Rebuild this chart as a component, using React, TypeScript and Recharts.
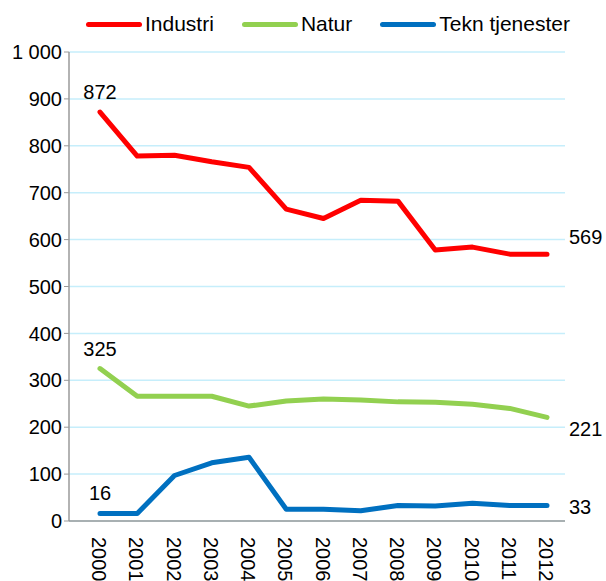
import React from 'react';
import { LineChart, Line, XAxis, YAxis, CartesianGrid, LabelList } from 'recharts';

const years = ['2000','2001','2002','2003','2004','2005','2006','2007','2008','2009','2010','2011','2012'];
const industri = [872, 778, 780, 766, 754, 665, 645, 684, 682, 578, 584, 569, 569];
const natur = [325, 266, 266, 266, 245, 256, 260, 258, 254, 253, 249, 240, 221];
const tekn = [16, 16, 97, 124, 136, 25, 25, 22, 33, 32, 38, 33, 33];
const yTicks = [0, 100, 200, 300, 400, 500, 600, 700, 800, 900, 1000];

const data = years.map((y, i) => ({ year: y, industri: industri[i], natur: natur[i], tekn: tekn[i] }));

const FONT = '"Liberation Sans", Arial, sans-serif';
const RED = '#ff0000';
const GREEN = '#92d050';
const BLUE = '#0070c0';

const fmt = (v: number) => (v >= 1000 ? `${Math.floor(v / 1000)} ${String(v % 1000).padStart(3, '0')}` : String(v));

const makeLabel = (lastDy: number) => (props: any) => {
  const { x, y, value, index } = props;
  if (index === 0) {
    return (
      <text x={x} y={y - 20} textAnchor="middle" dominantBaseline="central" fontSize={20} fontFamily={FONT} fill="#000">
        {value}
      </text>
    );
  }
  if (index === years.length - 1) {
    return (
      <text x={x + 22} y={y + lastDy} textAnchor="start" dominantBaseline="central" fontSize={20} fontFamily={FONT} fill="#000">
        {value}
      </text>
    );
  }
  return null;
};

const XTick = (props: any) => {
  const { x, y, payload } = props;
  return (
    <text transform={`translate(${x - 1},${y + 8}) rotate(90)`} textAnchor="start" dominantBaseline="central" fontSize={20} fontFamily={FONT} fill="#000">
      {payload.value}
    </text>
  );
};

const legendItems = [
  { name: 'Industri', color: RED },
  { name: 'Natur', color: GREEN },
  { name: 'Tekn tjenester', color: BLUE },
];

export default function App() {
  return (
    <div style={{ position: 'absolute', left: 0, top: 0, width: 606, height: 581, background: '#fff' }}>
      <div style={{ position: 'absolute', left: 86, top: 11, height: 26, display: 'flex', alignItems: 'center', fontFamily: FONT, fontSize: 21, color: '#000' }}>
        {legendItems.map((it, i) => (
          <div key={it.name} style={{ display: 'flex', alignItems: 'center', marginRight: i < 2 ? 28 : 0 }}>
            <div style={{ width: 56, height: 5, borderRadius: 3, background: it.color, marginRight: 3 }} />
            <span>{it.name}</span>
          </div>
        ))}
      </div>
      <LineChart width={606} height={581} data={data} margin={{ top: 52, right: 41, bottom: 5, left: 0 }}>
        <CartesianGrid horizontal vertical={false} stroke="#c6eefb" strokeWidth={1.5} />
        <XAxis
          dataKey="year"
          padding={{ left: 31, right: 18 }}
          height={55}
          tickLine={false}
          axisLine={{ stroke: '#9a9a9a', strokeWidth: 1.5 }}
          tick={<XTick />}
          interval={0}
        />
        <YAxis
          domain={[0, 1000]}
          ticks={yTicks}
          width={69}
          tickSize={5}
          tickMargin={2}
          tickLine={{ stroke: '#9a9a9a' }}
          axisLine={{ stroke: '#9a9a9a', strokeWidth: 1.5 }}
          tickFormatter={fmt}
          tick={{ fontSize: 20, fontFamily: FONT, fill: '#000' }}
          interval={0}
        />
        <Line dataKey="industri" stroke={RED} strokeWidth={5} dot={false} isAnimationActive={false} strokeLinejoin="round" strokeLinecap="round">
          <LabelList dataKey="industri" content={makeLabel(-17)} />
        </Line>
        <Line dataKey="natur" stroke={GREEN} strokeWidth={5} dot={false} isAnimationActive={false} strokeLinejoin="round" strokeLinecap="round">
          <LabelList dataKey="natur" content={makeLabel(12)} />
        </Line>
        <Line dataKey="tekn" stroke={BLUE} strokeWidth={5} dot={false} isAnimationActive={false} strokeLinejoin="round" strokeLinecap="round">
          <LabelList dataKey="tekn" content={makeLabel(1)} />
        </Line>
      </LineChart>
    </div>
  );
}
